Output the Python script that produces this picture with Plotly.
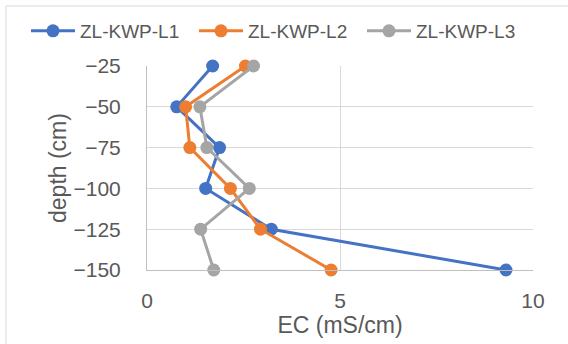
import plotly.graph_objects as go

depth = [-25, -50, -75, -100, -125, -150]
series_names = ["ZL-KWP-L1", "ZL-KWP-L2", "ZL-KWP-L3"]
ec_l1 = [1.70, 0.77, 1.88, 1.52, 3.22, 9.30]
ec_l2 = [2.55, 1.00, 1.11, 2.16, 2.94, 4.77]
ec_l3 = [2.76, 1.37, 1.55, 2.65, 1.39, 1.73]
colors = ["#4472C4", "#ED7D31", "#A5A5A5"]

x_ticks = [0, 5, 10]
y_ticks = [-25, -50, -75, -100, -125, -150]

W, H = 568, 344
ml, mr, mt, mb = 147, 35, 66, 74
pw, ph = W - ml - mr, H - mt - mb

fig = go.Figure()
for name, vals, c in zip(series_names, [ec_l1, ec_l2, ec_l3], colors):
    fig.add_trace(go.Scatter(
        x=vals, y=depth, name=name, mode="lines+markers",
        line=dict(color=c, width=3),
        marker=dict(color=c, size=13),
        cliponaxis=False,
    ))

fam = "Liberation Sans, Arial, sans-serif"
grey = "#595959"
font = dict(family=fam, size=19, color=grey)
tick_font = dict(family=fam, size=21, color=grey)
title_font = dict(family=fam, size=23, color=grey)

fig.update_layout(
    width=W, height=H,
    margin=dict(l=ml, r=mr, t=mt, b=mb, pad=0, autoexpand=False),
    paper_bgcolor="white", plot_bgcolor="white",
    font=font,
    showlegend=True,
    legend=dict(orientation="h", x=(26 - ml) / pw, xanchor="left",
                y=1 + (mt - 31) / ph, yanchor="middle",
                font=font, entrywidth=109, entrywidthmode="pixels",
                itemwidth=44, tracegroupgap=0,
                bgcolor="rgba(0,0,0,0)"),
    xaxis=dict(range=[0, 10], tickvals=x_ticks, showgrid=True, gridcolor="#D9D9D9",
               gridwidth=1, zeroline=False, showline=True, linecolor="#BFBFBF", linewidth=1,
               ticks="outside", ticklen=12, tickcolor="rgba(0,0,0,0)", tickfont=tick_font,
               title=dict(text="EC (mS/cm)", font=title_font, standoff=3), fixedrange=True),
    yaxis=dict(range=[-150, -25], tickvals=y_ticks, showgrid=True, gridcolor="#D9D9D9",
               gridwidth=1, zeroline=False, showline=True, linecolor="#BFBFBF", linewidth=1,
               ticks="outside", ticklen=21, tickcolor="rgba(0,0,0,0)", tickfont=tick_font,
               title=dict(text="depth (cm)", font=title_font, standoff=0), fixedrange=True),
    shapes=[dict(type="rect", xref="paper", yref="paper",
                 x0=(6 - ml) / pw, x1=(W + 5 - ml) / pw,
                 y0=-(H + 5 - mt - ph) / ph, y1=1 + (mt - 6) / ph,
                 line=dict(color="#D9D9D9", width=1), fillcolor="rgba(0,0,0,0)", layer="below")],
)

fig.write_html("out.html")
